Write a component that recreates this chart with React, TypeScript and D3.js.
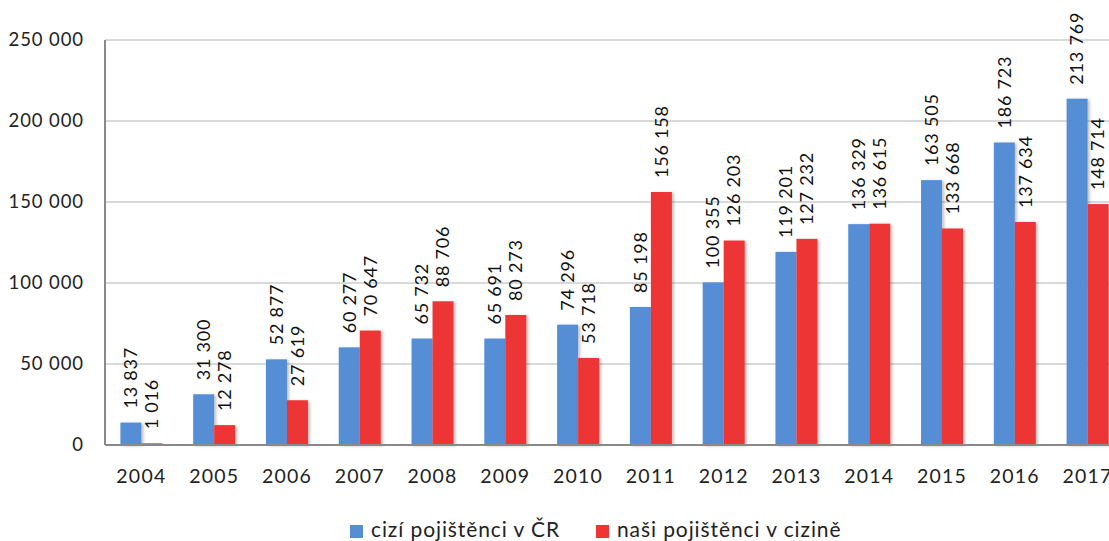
import React from "react";
import * as d3 from "d3";

const years = ["2004","2005","2006","2007","2008","2009","2010","2011","2012","2013","2014","2015","2016","2017"];
const foreign = [13837,31300,52877,60277,65732,65691,74296,85198,100355,119201,136329,163505,186723,213769];
const ours = [1016,12278,27619,70647,88706,80273,53718,156158,126203,127232,136615,133668,137634,148714];
const seriesNames = ["cizí pojištěnci v ČR","naši pojištěnci v cizině"];
const colors = ["#558ED5","#EE3434"];
const yTicks = [0,50000,100000,150000,200000,250000];

const W = 1109, H = 541;
const left = 105, right = 1124, top = 40, bottom = 445;
const FONT = "Lato, 'Open Sans', sans-serif";

const fmt = (v: number) => {
  const s = String(v);
  return s.replace(/\B(?=(\d{3})+(?!\d))/g, " ");
};

export default function App() {
  const x0 = d3.scaleBand().domain(years).range([left, right]).padding(0);
  const y = d3.scaleLinear().domain([0, 250000]).range([bottom, top]);
  const groupW = 42;
  const x1 = d3.scaleBand().domain(["0","1"]).range([0, groupW]).padding(0);
  const off = (x0.bandwidth() - groupW) / 2;
  const data = [foreign, ours];
  return (
    <svg width={W} height={H} style={{ position: "absolute", left: 0, top: 0, background: "#fff" }}>
      <defs>
        <filter id="sh" x="-20%" y="-20%" width="160%" height="140%">
          <feDropShadow dx="2" dy="1" stdDeviation="1.5" floodColor="#000" floodOpacity="0.25" />
        </filter>
      </defs>
      <rect x={0} y={0} width={W} height={H} fill="#fff" />
      {yTicks.map(t => (
        <g key={t}>
          {t > 0 && <line x1={left} x2={W} y1={y(t)} y2={y(t)} stroke="#d9d9d9" strokeWidth={2} />}
          <text x={84} y={y(t)} dy="0.35em" textAnchor="end" fontFamily={FONT} fontSize={18.5} letterSpacing={0.9} fill="#222">{fmt(t)}</text>
        </g>
      ))}
      {data.map((vals, si) => vals.map((v, i) => {
        const bx = (x0(years[i]) as number) + off + (x1(String(si)) as number);
        return (
          <rect key={`${si}-${i}`} x={bx} y={y(v)} width={x1.bandwidth()} height={bottom - y(v)} fill={colors[si]} filter="url(#sh)" />
        );
      }))}
      <line x1={left} x2={W} y1={bottom} y2={bottom} stroke="#898989" strokeWidth={2} />
      <line x1={left} x2={left} y1={top} y2={bottom} stroke="#898989" strokeWidth={2} />
      {data.map((vals, si) => vals.map((v, i) => {
        const cx = (x0(years[i]) as number) + off + (x1(String(si)) as number) + x1.bandwidth() / 2;
        const ty = y(v) - 14;
        return (
          <text key={`l${si}-${i}`} transform={`translate(${cx},${ty}) rotate(-90)`} dy="0.35em" textAnchor="start" fontFamily={FONT} fontSize={18} letterSpacing={0.8} fill="#111">{fmt(v)}</text>
        );
      }))}
      {years.map(yr => (
        <text key={yr} x={(x0(yr) as number) + x0.bandwidth() / 2} y={476} dy="0.35em" textAnchor="middle" fontFamily={FONT} fontSize={19.5} letterSpacing={1.2} fill="#222">{yr}</text>
      ))}
      <g>
        <rect x={350} y={525} width={13} height={13} fill={colors[0]} />
        <text x={371} y={537} fontFamily={FONT} fontSize={21} letterSpacing={0.9} fill="#222">{seriesNames[0]}</text>
        <rect x={596} y={525} width={13} height={13} fill={colors[1]} />
        <text x={617} y={537} fontFamily={FONT} fontSize={21} letterSpacing={0.9} fill="#222">{seriesNames[1]}</text>
      </g>
    </svg>
  );
}
